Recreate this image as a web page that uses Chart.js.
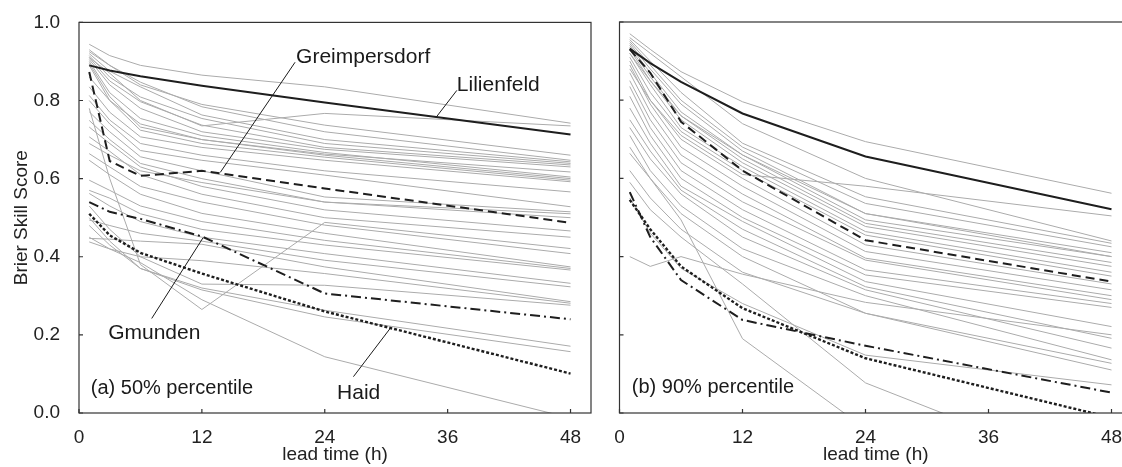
<!DOCTYPE html>
<html>
<head>
<meta charset="utf-8">
<script src="https://cdn.jsdelivr.net/npm/chart.js@4.4.1/dist/chart.umd.min.js"></script>
<style>
  html, body { margin: 0; padding: 0; background: #fff; overflow: hidden; width: 1122px; height: 467px; }
  canvas { position: absolute; top: 0; }
  #panelA { left: 0; }
  #panelB { left: 605px; }
</style>
</head>
<body>
<canvas id="panelA" width="600" height="467"></canvas>
<canvas id="panelB" width="540" height="467"></canvas>
<script>
const leadTimes = [1, 3, 6, 12, 24, 48];
const xTickValues = [0, 12, 24, 36, 48];
const yTickValues = [0, 0.2, 0.4, 0.6, 0.8, 1.0];

// (a) 50% percentile - highlighted stations
const lilienfeldA    = [0.890, 0.877, 0.862, 0.838, 0.795, 0.713];
const greimpersdorfA = [0.873, 0.645, 0.607, 0.620, 0.575, 0.487];
const gmundenA       = [0.540, 0.515, 0.497, 0.452, 0.306, 0.240];
const haidA          = [0.510, 0.455, 0.410, 0.357, 0.260, 0.101];

// (a) all other stations
const othersA = [
  [0.944, 0.915, 0.890, 0.865, 0.835, 0.742],
  [0.910, 0.870, 0.800, 0.735, 0.767, 0.735],
  [0.925, 0.890, 0.847, 0.784, 0.720, 0.647],
  [0.920, 0.875, 0.835, 0.763, 0.700, 0.643],
  [0.915, 0.860, 0.809, 0.754, 0.690, 0.639],
  [0.910, 0.850, 0.797, 0.737, 0.680, 0.635],
  [0.905, 0.840, 0.780, 0.720, 0.675, 0.630],
  [0.900, 0.820, 0.754, 0.710, 0.667, 0.604],
  [0.895, 0.810, 0.732, 0.700, 0.660, 0.600],
  [0.890, 0.800, 0.724, 0.690, 0.655, 0.596],
  [0.835, 0.770, 0.707, 0.680, 0.647, 0.592],
  [0.813, 0.750, 0.690, 0.660, 0.620, 0.566],
  [0.800, 0.740, 0.672, 0.647, 0.609, 0.528],
  [0.771, 0.720, 0.656, 0.620, 0.553, 0.515],
  [0.749, 0.700, 0.639, 0.600, 0.540, 0.510],
  [0.732, 0.690, 0.630, 0.580, 0.520, 0.466],
  [0.707, 0.670, 0.610, 0.560, 0.500, 0.450],
  [0.780, 0.600, 0.380, 0.265, 0.488, 0.421],
  [0.664, 0.630, 0.580, 0.540, 0.481, 0.408],
  [0.647, 0.610, 0.560, 0.511, 0.460, 0.374],
  [0.596, 0.570, 0.530, 0.490, 0.442, 0.370],
  [0.570, 0.550, 0.510, 0.470, 0.430, 0.366],
  [0.562, 0.530, 0.490, 0.450, 0.408, 0.332],
  [0.494, 0.480, 0.460, 0.440, 0.391, 0.323],
  [0.447, 0.445, 0.440, 0.432, 0.374, 0.285],
  [0.438, 0.420, 0.400, 0.390, 0.357, 0.281],
  [0.530, 0.470, 0.400, 0.330, 0.327, 0.276],
  [0.450, 0.420, 0.385, 0.290, 0.144, -0.013],
  [0.500, 0.440, 0.370, 0.320, 0.263, 0.171],
  [0.480, 0.430, 0.370, 0.315, 0.246, 0.157],
  [0.930, 0.890, 0.840, 0.790, 0.737, 0.660],
  [0.860, 0.800, 0.740, 0.700, 0.663, 0.617],
  [0.690, 0.660, 0.620, 0.590, 0.540, 0.500]
];

// (b) 90% percentile - highlighted stations
const lilienfeldB    = [0.932, 0.895, 0.847, 0.766, 0.656, 0.521];
const greimpersdorfB = [0.930, 0.870, 0.745, 0.620, 0.442, 0.336];
const gmundenB       = [0.565, 0.450, 0.340, 0.238, 0.172, 0.052];
const haidB          = [0.545, 0.470, 0.375, 0.268, 0.140, -0.012];

// (b) all other stations
const othersB = [
  [0.970, 0.930, 0.873, 0.796, 0.694, 0.562],
  [0.880, 0.800, 0.710, 0.610, 0.580, 0.504],
  [0.955, 0.900, 0.820, 0.690, 0.553, 0.434],
  [0.950, 0.890, 0.800, 0.680, 0.536, 0.425],
  [0.945, 0.880, 0.790, 0.670, 0.510, 0.410],
  [0.940, 0.870, 0.770, 0.660, 0.494, 0.400],
  [0.935, 0.860, 0.760, 0.650, 0.485, 0.385],
  [0.930, 0.850, 0.750, 0.640, 0.477, 0.375],
  [0.920, 0.840, 0.730, 0.630, 0.464, 0.360],
  [0.910, 0.820, 0.720, 0.620, 0.455, 0.350],
  [0.900, 0.800, 0.700, 0.600, 0.430, 0.330],
  [0.890, 0.790, 0.680, 0.580, 0.413, 0.315],
  [0.870, 0.770, 0.660, 0.560, 0.396, 0.300],
  [0.850, 0.750, 0.640, 0.540, 0.391, 0.290],
  [0.835, 0.730, 0.620, 0.520, 0.366, 0.280],
  [0.810, 0.710, 0.600, 0.500, 0.353, 0.270],
  [0.780, 0.690, 0.580, 0.490, 0.336, 0.221],
  [0.750, 0.670, 0.570, 0.470, 0.323, 0.191],
  [0.730, 0.650, 0.560, 0.450, 0.315, 0.166],
  [0.710, 0.620, 0.530, 0.420, 0.300, 0.136],
  [0.680, 0.600, 0.510, 0.400, 0.255, 0.127],
  [0.400, 0.375, 0.400, 0.355, 0.283, 0.200],
  [0.664, 0.600, 0.494, 0.190, -0.040, -0.300],
  [0.590, 0.520, 0.450, 0.330, 0.077, -0.170],
  [0.620, 0.550, 0.470, 0.360, 0.255, 0.110],
  [0.550, 0.460, 0.370, 0.280, 0.148, 0.072],
  [0.960, 0.920, 0.860, 0.740, 0.600, 0.440],
  [0.920, 0.850, 0.760, 0.660, 0.510, 0.400]
];

const INK = '#1e1e1e';
const GREY = '#ababab';
Chart.defaults.font.family = '"Liberation Sans", Arial, Helvetica, sans-serif';
const tickFont = { size: 19 };

function toPoints(vals) {
  return leadTimes.map((t, i) => ({ x: t, y: vals[i] }));
}

function makeDatasets(others, stations) {
  const sets = others.map(vals => ({
    data: toPoints(vals), borderColor: GREY, borderWidth: 1, order: 2
  }));
  stations.forEach(s => sets.push({
    data: toPoints(s.values), borderColor: INK, borderWidth: s.width, borderDash: s.dash, order: 1
  }));
  return sets;
}

// box, inward ticks and the station labels with their leader lines
const framePlugin = {
  id: 'frame',
  afterDatasetsDraw(chart, args, opts) {
    const { ctx, chartArea: a, scales: { x, y } } = chart;
    ctx.save();
    ctx.strokeStyle = '#333';
    ctx.lineWidth = 1.2;
    ctx.strokeRect(a.left, a.top, a.right - a.left, a.bottom - a.top);
    ctx.beginPath();
    xTickValues.forEach(v => {
      const px = x.getPixelForValue(v);
      ctx.moveTo(px, a.bottom);
      ctx.lineTo(px, a.bottom - 4);
    });
    yTickValues.forEach(v => {
      const py = y.getPixelForValue(v);
      ctx.moveTo(a.left, py);
      ctx.lineTo(a.left + 4, py);
    });
    ctx.stroke();

    ctx.fillStyle = '#1a1a1a';
    ctx.textBaseline = 'middle';
    ctx.textAlign = 'left';
    (opts.notes || []).forEach(n => {
      ctx.font = n.size + 'px "Liberation Sans", Arial, sans-serif';
      ctx.fillText(n.text, x.getPixelForValue(n.at[0]), y.getPixelForValue(n.at[1]));
      if (n.leader) {
        ctx.beginPath();
        ctx.strokeStyle = '#1a1a1a';
        ctx.lineWidth = 1;
        ctx.moveTo(x.getPixelForValue(n.leader[0][0]), y.getPixelForValue(n.leader[0][1]));
        ctx.lineTo(x.getPixelForValue(n.leader[1][0]), y.getPixelForValue(n.leader[1][1]));
        ctx.stroke();
      }
    });
    ctx.restore();
  }
};

function buildChart(canvas, datasets, cfg) {
  return new Chart(canvas, {
    type: 'line',
    data: { datasets },
    options: {
      responsive: false,
      animation: false,
      devicePixelRatio: 1,
      layout: { padding: { top: 22, right: cfg.padRight, left: 0, bottom: 0 } },
      elements: {
        point: { radius: 0 },
        line: { tension: 0, borderCapStyle: 'butt' }
      },
      plugins: {
        legend: { display: false },
        tooltip: { enabled: false },
        frame: { notes: cfg.notes }
      },
      scales: {
        x: {
          type: 'linear', min: 0, max: 50,
          grid: { display: false }, border: { display: false },
          afterBuildTicks: s => { s.ticks = xTickValues.map(v => ({ value: v })); },
          afterFit: s => { s.height = 54; },
          ticks: { padding: 5, color: '#222', font: tickFont },
          title: { display: true, text: 'lead time (h)', color: '#222', font: tickFont, padding: { top: 0, bottom: 1 } }
        },
        y: {
          min: 0, max: 1,
          grid: { display: false }, border: { display: false },
          afterBuildTicks: s => { s.ticks = yTickValues.map(v => ({ value: v })); },
          afterFit: s => { s.width = cfg.yWidth; },
          ticks: { display: cfg.showY, padding: 11, color: '#222', font: tickFont, callback: v => v.toFixed(1) },
          title: { display: cfg.showY, text: 'Brier Skill Score', color: '#222', font: tickFont, padding: { top: 10, bottom: 0 } }
        }
      }
    },
    plugins: [framePlugin]
  });
}

const chartA = buildChart(document.getElementById('panelA'),
  makeDatasets(othersA, [
    { values: lilienfeldA, width: 2 },
    { values: greimpersdorfA, width: 2, dash: [9, 5] },
    { values: gmundenA, width: 2, dash: [10, 4, 2, 4] },
    { values: haidA, width: 2.4, dash: [3, 2] }
  ]),
  {
    yWidth: 79, padRight: 9, showY: true,
    notes: [
      { text: 'Greimpersdorf', at: [21.2, 0.91], size: 21, leader: [[21.1, 0.898], [13.8, 0.616]] },
      { text: 'Lilienfeld', at: [36.9, 0.839], size: 21, leader: [[36.9, 0.826], [34.9, 0.758]] },
      { text: 'Gmunden', at: [2.85, 0.205], size: 21, leader: [[7.1, 0.242], [12.1, 0.448]] },
      { text: 'Haid', at: [25.2, 0.051], size: 21, leader: [[26.8, 0.093], [30.4, 0.217]] },
      { text: '(a) 50% percentile', at: [1.15, 0.064], size: 20 }
    ]
  });

const chartB = buildChart(document.getElementById('panelB'),
  makeDatasets(othersB, [
    { values: lilienfeldB, width: 2 },
    { values: greimpersdorfB, width: 2, dash: [9, 5] },
    { values: gmundenB, width: 2, dash: [10, 4, 2, 4] },
    { values: haidB, width: 2.4, dash: [3, 2] }
  ]),
  {
    yWidth: 14.5, padRight: 13, showY: false,
    notes: [
      { text: '(b) 90% percentile', at: [1.2, 0.064], size: 20 }
    ]
  });
</script>
</body>
</html>
